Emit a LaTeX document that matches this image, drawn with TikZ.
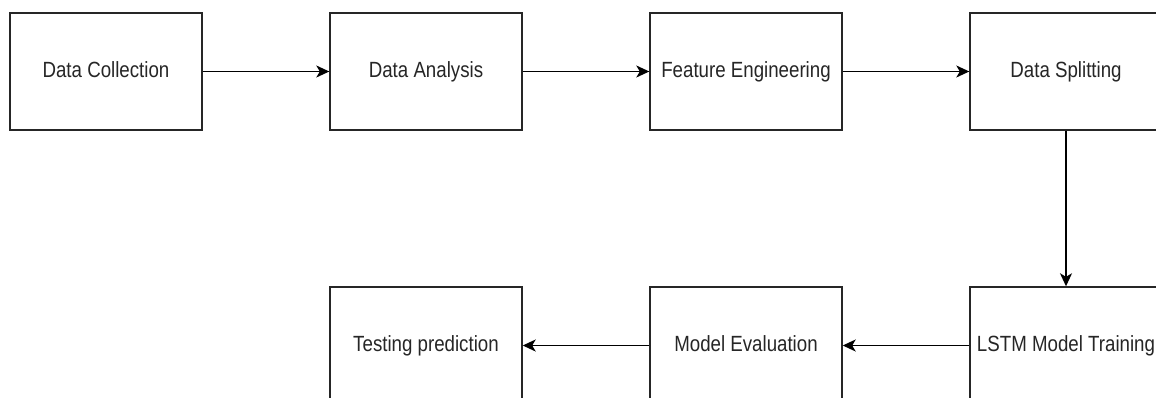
\documentclass[tikz,border=0pt]{standalone}
\usepackage{fontspec}
\setmainfont{Liberation Sans}[FakeStretch=0.85]
\usetikzlibrary{arrows.meta}
\begin{document}
\begin{tikzpicture}[x=1pt,y=-1pt,
  stagebox/.style={draw=black!85, line width=1.4pt, fill=white,
    minimum width=192pt, minimum height=117pt, inner sep=0pt,
    text height=15.75pt, text depth=3.75pt,
    text=black!85, font=\fontsize{22pt}{26pt}\selectfont},
  flow/.style={line width=1.4pt, draw=black,
    -{Stealth[length=13pt,width=12pt,inset=3.5pt]}}]
  \useasboundingbox (0,0) rectangle (1156,398);
  \clip (0,0) rectangle (1156,398);
  % upper row of stages
  \node[stagebox] (dc) at (106,71.5) {Data Collection};
  \node[stagebox] (da) at (426,71.5) {Data Analysis};
  \node[stagebox] (fe) at (746,71.5) {Feature Engineering};
  \node[stagebox] (ds) at (1066,71.5) {Data Splitting};
  % lower row of stages
  \node[stagebox] (lt) at (1066,345.5) {LSTM Model Training};
  \node[stagebox] (me) at (746,345.5) {Model Evaluation};
  \node[stagebox] (tp) at (426,345.5) {Testing prediction};
  % connectors
  \draw[flow] (dc) -- (da);
  \draw[flow] (da) -- (fe);
  \draw[flow] (fe) -- (ds);
  \draw[flow] (ds) -- (lt);
  \draw[flow] (lt) -- (me);
  \draw[flow] (me) -- (tp);
\end{tikzpicture}
\end{document}
